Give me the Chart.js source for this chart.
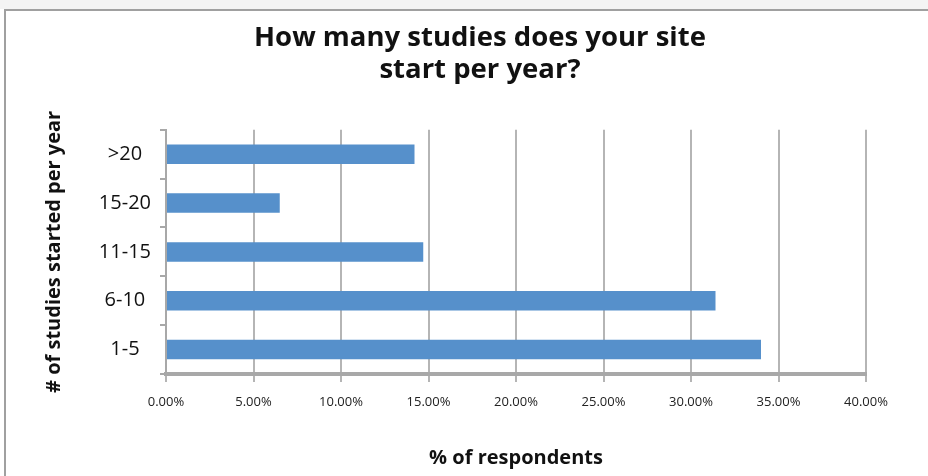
<!DOCTYPE html>
<html>
<head>
<meta charset="utf-8">
<script src="https://cdn.jsdelivr.net/npm/chart.js@4"></script>
<style>
  html, body { margin: 0; padding: 0; background: #fff; }
  #wrap { position: relative; width: 928px; height: 476px; overflow: hidden; }
  #band { position: absolute; left: 0; top: 0; width: 928px; height: 9px; background: #f4f4f4; }
  #frame { position: absolute; left: 4px; top: 9px; width: 940px; height: 480px;
           border-left: 2px solid #a0a0a0; border-top: 2px solid #a0a0a0; }
  canvas { position: absolute; left: 0; top: 0; }
</style>
</head>
<body>
<div id="wrap">
  <div id="band"></div>
  <div id="frame"></div>
  <canvas id="chart" width="928" height="476"></canvas>
</div>
<script>
// categories top to bottom
const categories = [">20", "15-20", "11-15", "6-10", "1-5"];
// % of respondents
const percentValues = [14.2, 6.5, 14.7, 31.4, 34.0];
const titleLines = ["How many studies does your site", "start per year?"];

const ctx = document.getElementById("chart");

new Chart(ctx, {
  type: "bar",
  data: {
    labels: categories,
    datasets: [
      {
        label: "% of respondents",
        data: percentValues,
        backgroundColor: "#5690cb",
        borderWidth: 0,
        categoryPercentage: 1,
        barPercentage: 0.4,
      },
    ],
  },
  options: {
    indexAxis: "y",
    responsive: false,
    animation: false,
    layout: { padding: { left: 32, right: 0, top: 0, bottom: 6 } },
    scales: {
      x: {
        min: 0,
        max: 40,
        afterFit: (scale) => { scale.height = 96; },
        ticks: {
          stepSize: 5,
          color: "#222",
          font: { family: "Open Sans", size: 13 },
          padding: 12,
          callback: (v) => v.toFixed(2) + "%",
        },
        grid: { color: "#b5b5b5", lineWidth: 2, tickLength: 8 },
        border: { color: "#a8a8a8", width: 4 },
        title: {
          display: true,
          text: "% of respondents",
          color: "#111",
          font: { family: "Open Sans", size: 20, weight: "bold" },
          padding: { top: 24, bottom: 0 },
        },
      },
      y: {
        afterFit: (scale) => { scale.width = 124; },
        ticks: {
          color: "#111",
          crossAlign: "center",
          font: { family: "Open Sans", size: 20 },
          padding: 9,
        },
        grid: { drawOnChartArea: false, color: "#a8a8a8", lineWidth: 2, tickLength: 6, offset: true },
        border: { color: "#a8a8a8", width: 2 },
        title: {
          display: true,
          text: "# of studies started per year",
          color: "#111",
          font: { family: "Open Sans", size: 20, weight: "bold" },
          padding: { top: 0, bottom: 4 },
        },
      },
      // empty side axes keep the plot where the original has it
      yLeft: {
        position: "left",
        afterFit: (scale) => { scale.width = 10; },
        ticks: { display: false },
        grid: { display: false },
        border: { display: false },
      },
      yRight: {
        position: "right",
        afterFit: (scale) => { scale.width = 62; },
        ticks: { display: false },
        grid: { display: false },
        border: { display: false },
      },
    },
    plugins: {
      legend: { display: false },
      tooltip: { enabled: false },
      title: {
        display: true,
        text: titleLines,
        color: "#111",
        font: { family: "Open Sans", size: 27.5, weight: "bold", lineHeight: 1.16 },
        padding: { top: 22, bottom: 44 },
      },
    },
  },
});
</script>
</body>
</html>
